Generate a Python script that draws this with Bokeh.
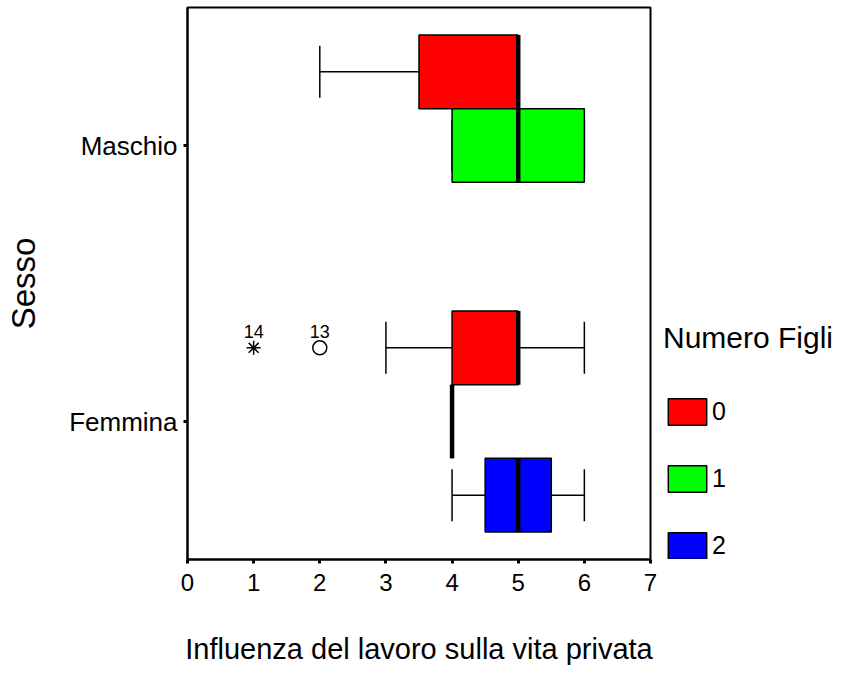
from bokeh.plotting import figure
from bokeh.layouts import row
from bokeh.models import ColumnDataSource, FactorRange, Range1d, Legend, LegendItem, FixedTicker
from bokeh.transform import dodge
from bokeh.core.properties import value
from bokeh.embed import file_html
from bokeh.resources import INLINE

# ---- data ----
sexes = ["Femmina", "Maschio"]           # bottom to top
figli_levels = ["0", "1", "2"]
colors = {"0": "#ff0000", "1": "#00ff00", "2": "#0000ff"}

box_sex   = ["Maschio", "Maschio", "Femmina", "Femmina", "Femmina"]
box_figli = ["0", "1", "0", "1", "2"]
box_lw    = [2.0, 4.0, 3.0, 4.0, 4.0]
box_q1    = [3.5, 4.0, 4.0, 4.0, 4.5]
box_med   = [5.0, 5.0, 5.0, 4.0, 5.0]
box_q3    = [5.0, 6.0, 5.0, 4.0, 5.5]
box_uw    = [5.0, 6.0, 6.0, 4.0, 6.0]

out_sex   = ["Femmina", "Femmina"]
out_figli = ["0", "0"]
out_val   = [2.0, 1.0]
out_id    = ["13", "14"]
out_mark  = ["circle", "asterisk"]

x_ticks = [0, 1, 2, 3, 4, 5, 6, 7]

FONT = "Liberation Sans"
offsets = {"0": 0.267, "1": 0.0, "2": -0.267}
BOX_H = 0.267
CAP_H = 0.094
NAN = float("nan")

H = 673
p = figure(width=660, height=H, output_backend="svg", toolbar_location=None,
           y_range=FactorRange(factors=sexes, range_padding=0),
           x_range=Range1d(0, 7),
           min_border_left=187, min_border_right=10, min_border_top=7, min_border_bottom=114)
p.xgrid.visible = False
p.ygrid.visible = False
p.outline_line_color = "black"
p.outline_line_width = 2
p.background_fill_color = "white"
p.border_fill_color = "white"

for f in figli_levels:
    idx = [i for i, v in enumerate(box_figli) if v == f]
    src = ColumnDataSource(dict(
        sex=[box_sex[i] for i in idx],
        lw=[box_lw[i] for i in idx],
        q1=[box_q1[i] for i in idx],
        med=[box_med[i] for i in idx],
        q3=[box_q3[i] for i in idx],
        uw=[box_uw[i] for i in idx],
    ))
    off = offsets[f]
    yc = dodge("sex", off, range=p.y_range)
    yca = dodge("sex", off - CAP_H, range=p.y_range)
    ycb = dodge("sex", off + CAP_H, range=p.y_range)
    yba = dodge("sex", off - BOX_H / 2, range=p.y_range)
    ybb = dodge("sex", off + BOX_H / 2, range=p.y_range)
    # whiskers
    p.segment(x0="lw", x1="q1", y0=yc, y1=yc, source=src, line_color="black", line_width=1.5)
    p.segment(x0="q3", x1="uw", y0=yc, y1=yc, source=src, line_color="black", line_width=1.5)
    p.segment(x0="lw", x1="lw", y0=yca, y1=ycb, source=src, line_color="black", line_width=1.5)
    p.segment(x0="uw", x1="uw", y0=yca, y1=ycb, source=src, line_color="black", line_width=1.5)
    # box
    p.hbar(y=yc, left="q1", right="q3", height=BOX_H, source=src,
           fill_color=colors[f], line_color="black", line_width=1.5)
    # median
    p.segment(x0="med", x1="med", y0=yba, y1=ybb, source=src, line_color="black", line_width=4.5)

# outliers
osrc = ColumnDataSource(dict(sex=out_sex, val=out_val, id=out_id, mark=out_mark))
oy = dodge("sex", offsets["0"], range=p.y_range)
p.scatter(x="val", y=oy, marker="mark", size=14, source=osrc,
          fill_color=None, line_color="black", line_width=1.5)
p.text(x="val", y=oy, text="id", source=osrc, y_offset=-10,
       text_align="center", text_baseline="bottom",
       text_font=value(FONT), text_font_size="18px", text_color="black")

# axes
p.xaxis.ticker = FixedTicker(ticks=x_ticks)
p.xaxis.minor_tick_line_color = None
for ax in (p.xaxis[0], p.yaxis[0]):
    ax.axis_line_color = "black"
    ax.axis_line_width = 2
    ax.major_tick_in = 0
    ax.major_tick_out = 4
    ax.major_tick_line_width = 3
    ax.major_tick_line_color = "black"
    ax.major_label_text_font = FONT
    ax.major_label_text_color = "black"
    ax.axis_label_text_font = FONT
    ax.axis_label_text_font_style = "normal"
    ax.axis_label_text_color = "black"

p.xaxis.major_label_text_font_size = "24px"
p.xaxis.major_label_standoff = 10
p.xaxis.axis_label = "Influenza del lavoro sulla vita privata"
p.xaxis.axis_label_text_font_size = "29px"
p.xaxis.axis_label_standoff = 39

p.yaxis.major_label_text_font_size = "26px"
p.yaxis.major_label_standoff = 6
p.yaxis.axis_label = "Sesso"
p.yaxis.axis_label_text_font_size = "33px"
p.yaxis.axis_label_standoff = 24

# ---- legend panel ----
lg = figure(width=181, height=H, output_backend="svg", toolbar_location=None,
            x_range=Range1d(0, 1), y_range=Range1d(0, 1),
            min_border_left=0, min_border_right=0, min_border_top=0, min_border_bottom=0)
lg.axis.visible = False
lg.xgrid.visible = False
lg.ygrid.visible = False
lg.outline_line_color = None
lg.background_fill_color = "white"
lg.border_fill_color = "white"

items = []
for f in figli_levels:
    r = lg.hbar(y=[NAN], left=[NAN], right=[NAN], height=1, fill_color=colors[f],
                line_color="black", line_width=1.5)
    items.append(LegendItem(label=f, renderers=[r]))

legend = Legend(items=items, title="Numero Figli",
                title_text_font=FONT, title_text_font_size="30px", title_text_font_style="normal",
                title_text_color="black", title_standoff=40,
                label_text_font=FONT, label_text_font_size="25px", label_text_color="black",
                glyph_width=48, glyph_height=33, label_height=26, label_standoff=1,
                spacing=34, padding=0, margin=0,
                border_line_color=None, background_fill_alpha=0,
                location=(3, -3))
lg.add_layout(legend)

layout = row(p, lg)
open("out.html", "w").write(file_html(layout, INLINE))
